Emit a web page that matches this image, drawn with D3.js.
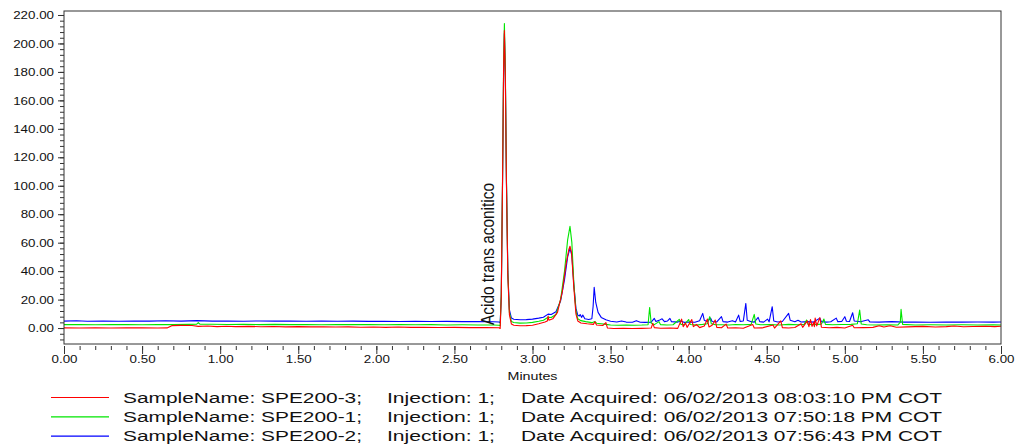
<!DOCTYPE html>
<html>
<head>
<meta charset="utf-8">
<script src="https://cdn.jsdelivr.net/npm/d3@7"></script>
<style>
  body { margin: 0; background: #fff; }
  svg { display: block; font-family: "Liberation Sans", Arial, sans-serif; }
</style>
</head>
<body>
<div id="chart"></div>
<script>
// time (min), response
const redData = [[0.00,0.1],[0.10,0.0],[0.20,0.2],[0.30,0.0],[0.40,0.1],[0.50,0.2],[0.60,0.0],[0.66,0.1],[0.69,1.7],[0.75,1.9],[0.82,1.8],[0.86,1.2],[0.92,1.4],[0.98,1.0],[1.04,1.3],[1.10,1.0],[1.18,1.2],[1.26,0.9],[1.34,1.1],[1.42,0.8],[1.50,1.0],[1.58,0.8],[1.66,0.9],[1.74,0.7],[1.82,0.8],[1.90,0.6],[1.98,0.7],[2.06,0.5],[2.14,0.7],[2.22,0.5],[2.30,0.6],[2.40,0.4],[2.50,0.5],[2.60,0.3],[2.70,0.4],[2.785,0.2],[2.793,-0.3],[2.800,22],[2.808,102],[2.815,183],[2.820,209],[2.826,178],[2.833,103],[2.842,37],[2.852,9.5],[2.865,2.8],[2.88,2.0],[2.92,1.6],[2.96,1.7],[3.00,2.0],[3.04,3.0],[3.08,4.2],[3.095,5],[3.10,8.4],[3.105,5.5],[3.13,6.5],[3.16,11],[3.19,25],[3.215,45],[3.232,55],[3.24,57.5],[3.25,53],[3.265,28],[3.278,10],[3.29,5.0],[3.31,3.6],[3.35,3.0],[3.39,2.6],[3.40,4.4],[3.41,2.2],[3.45,1.8],[3.47,3.8],[3.48,0.0],[3.52,-0.3],[3.58,-0.2],[3.64,-0.3],[3.70,-0.2],[3.76,0.0],[3.77,3.3],[3.78,0.3],[3.82,-0.1],[3.88,0.0],[3.93,-0.2],[3.955,6.3],[3.965,1.0],[3.98,3.5],[3.99,0.5],[4.02,6.0],[4.03,1.0],[4.05,2.5],[4.07,0.3],[4.10,1.5],[4.12,6.3],[4.13,0.8],[4.15,2.0],[4.17,5.6],[4.18,0.5],[4.21,0.2],[4.24,2.8],[4.25,0.0],[4.30,0.2],[4.35,-0.1],[4.41,2.5],[4.42,0.0],[4.47,0.1],[4.54,2.2],[4.55,0.0],[4.59,5.1],[4.60,0.3],[4.64,0.0],[4.68,0.4],[4.72,3.0],[4.73,0.5],[4.76,5.0],[4.77,1.0],[4.78,6.0],[4.79,1.2],[4.80,4.0],[4.805,1.0],[4.81,7.0],[4.82,1.5],[4.84,7.3],[4.85,0.6],[4.90,0.2],[4.95,0.5],[5.00,0.0],[5.05,2.0],[5.06,0.2],[5.12,0.3],[5.18,0.5],[5.22,1.6],[5.25,0.7],[5.29,1.6],[5.33,0.6],[5.40,0.8],[5.50,1.2],[5.58,0.7],[5.65,1.0],[5.70,1.5],[5.76,0.9],[5.82,1.1],[5.90,1.3],[5.96,1.0],[6.00,1.3]]

const greenData = [[0.00,2.4],[0.10,2.5],[0.20,2.3],[0.30,2.5],[0.40,2.4],[0.50,2.3],[0.60,2.5],[0.70,2.4],[0.80,2.6],[0.85,2.7],[0.86,3.8],[0.87,2.7],[0.95,2.7],[1.05,2.5],[1.15,2.6],[1.25,2.4],[1.35,2.6],[1.45,2.4],[1.55,2.5],[1.65,2.3],[1.75,2.5],[1.85,2.4],[1.95,2.5],[2.05,2.3],[2.15,2.4],[2.25,2.3],[2.35,2.4],[2.45,2.2],[2.55,2.3],[2.65,2.2],[2.75,2.1],[2.785,2.0],[2.793,1.6],[2.800,24],[2.808,104],[2.815,186],[2.820,214],[2.826,182],[2.833,106],[2.842,39],[2.852,11],[2.865,4.6],[2.88,3.9],[2.92,3.5],[2.96,3.6],[3.00,4.0],[3.04,4.8],[3.07,5.5],[3.10,7.6],[3.12,7.4],[3.15,9.5],[3.18,20],[3.205,40],[3.225,62],[3.24,71.5],[3.252,60],[3.265,31],[3.278,12],[3.29,6.5],[3.31,5.2],[3.34,4.5],[3.38,3.8],[3.40,4.6],[3.41,3.4],[3.44,3.0],[3.47,2.6],[3.50,2.2],[3.55,2.0],[3.60,2.2],[3.65,2.0],[3.70,2.1],[3.74,2.3],[3.75,14.5],[3.76,3.5],[3.78,2.4],[3.81,4.5],[3.82,2.4],[3.86,2.2],[3.90,2.3],[3.94,6.1],[3.95,2.6],[3.97,2.3],[4.00,6.0],[4.01,2.5],[4.05,2.2],[4.09,2.6],[4.12,3.0],[4.135,8.0],[4.145,3.0],[4.17,2.4],[4.21,2.3],[4.26,2.2],[4.30,2.5],[4.35,2.3],[4.40,2.6],[4.42,9.6],[4.43,2.8],[4.46,2.3],[4.52,2.4],[4.58,2.2],[4.64,2.6],[4.70,2.3],[4.74,2.6],[4.755,5.6],[4.765,2.5],[4.80,2.4],[4.85,2.8],[4.866,6.3],[4.876,2.6],[4.92,2.3],[4.98,2.5],[5.04,2.6],[5.08,3.0],[5.095,12.6],[5.105,2.8],[5.14,2.3],[5.20,2.2],[5.27,2.3],[5.34,2.2],[5.355,4.0],[5.36,13.1],[5.37,2.6],[5.45,2.2],[5.55,2.3],[5.65,2.2],[5.75,2.3],[5.85,2.2],[5.95,2.3],[6.00,2.2]]

const blueData = [[0.00,4.9],[0.08,5.1],[0.15,4.8],[0.25,5.0],[0.35,4.8],[0.45,5.0],[0.55,4.9],[0.65,5.1],[0.75,4.9],[0.85,5.2],[0.95,4.9],[1.05,5.0],[1.15,4.8],[1.25,5.0],[1.35,4.9],[1.45,5.0],[1.55,4.8],[1.65,4.9],[1.75,4.8],[1.85,4.9],[1.95,4.7],[2.05,4.8],[2.15,4.6],[2.25,4.8],[2.35,4.6],[2.45,4.7],[2.55,4.5],[2.65,4.6],[2.75,4.4],[2.785,4.3],[2.793,3.8],[2.800,22],[2.808,100],[2.815,180],[2.820,207],[2.826,178],[2.833,104],[2.842,40],[2.852,13],[2.865,7],[2.88,6.2],[2.92,5.8],[2.96,5.9],[3.00,6.3],[3.04,7.0],[3.07,7.6],[3.10,9.8],[3.12,9.5],[3.15,11.5],[3.18,19],[3.205,34],[3.225,50],[3.24,56],[3.252,51],[3.265,30],[3.278,14],[3.29,9],[3.30,8.5],[3.305,9.5],[3.315,7.5],[3.322,9.2],[3.335,6.5],[3.36,6.0],[3.38,6.5],[3.388,15],[3.395,28.6],[3.405,18],[3.42,11],[3.44,7.5],[3.47,5.8],[3.50,4.8],[3.54,4.3],[3.57,5.0],[3.60,4.2],[3.64,4.1],[3.665,5.2],[3.69,4.1],[3.72,4.0],[3.76,4.2],[3.78,6.8],[3.79,4.6],[3.81,5.4],[3.83,6.5],[3.845,4.5],[3.865,5.0],[3.88,6.8],[3.89,4.5],[3.93,4.2],[3.95,5.0],[3.97,4.0],[4.01,4.3],[4.04,4.1],[4.07,5.2],[4.09,10.3],[4.10,5.5],[4.12,4.5],[4.14,7.0],[4.15,4.6],[4.18,4.3],[4.21,8.0],[4.22,4.5],[4.25,4.2],[4.28,5.2],[4.30,4.3],[4.32,9.1],[4.33,4.6],[4.35,5.0],[4.366,17.3],[4.375,5.5],[4.40,4.5],[4.42,4.2],[4.445,7.5],[4.455,4.5],[4.48,4.2],[4.505,6.3],[4.515,4.4],[4.535,15.0],[4.545,5.0],[4.57,4.3],[4.60,4.6],[4.64,10.3],[4.65,5.5],[4.68,4.4],[4.70,5.5],[4.72,4.3],[4.76,4.5],[4.80,4.2],[4.84,7.0],[4.85,4.5],[4.88,4.2],[4.91,4.4],[4.945,7.0],[4.955,4.5],[4.98,4.6],[5.00,8.0],[5.01,4.8],[5.03,4.6],[5.05,10.8],[5.06,5.0],[5.10,4.4],[5.15,5.8],[5.16,4.3],[5.22,4.2],[5.30,4.5],[5.38,4.2],[5.45,4.3],[5.55,4.1],[5.65,4.3],[5.75,4.2],[5.85,4.3],[5.95,4.2],[6.00,4.3]]

const xMajor = [0, 0.5, 1, 1.5, 2, 2.5, 3, 3.5, 4, 4.5, 5, 5.5, 6]
const yMajor = [0, 20, 40, 60, 80, 100, 120, 140, 160, 180, 200, 220]
const xMinor = d3.range(0, 61).map(d => d / 10)
const yMinor = d3.range(-8, 221, 4)

const legendRows = [
    {color: '#ff0000', name: 'SampleName: SPE200-3;', inj: 'Injection: 1;', date: 'Date Acquired: 06/02/2013 08:03:10 PM COT'},
    {color: '#00e600', name: 'SampleName: SPE200-1;', inj: 'Injection: 1;', date: 'Date Acquired: 06/02/2013 07:50:18 PM COT'},
    {color: '#0000ff', name: 'SampleName: SPE200-2;', inj: 'Injection: 1;', date: 'Date Acquired: 06/02/2013 07:56:43 PM COT'}
]
const peakLabel = 'Acido trans aconitico'

const width = 1016, height = 444
const plot = {left: 64, right: 1001, top: 11, bottom: 344}

let svg = d3.select('#chart').append('svg')
    .attr('width', width)
    .attr('height', height)

let x = d3.scaleLinear().domain([0, 6]).range([plot.left, plot.right])
let y = d3.scaleLinear().domain([-11.2, 222.8]).range([plot.bottom, plot.top])

// stretch text horizontally like the original export, placed by hand
// align: 'end' puts right edge at x=endX, 'middle' centres on 0
function stretch(sel, k, align, endX) {
    sel.each(function() {
        let t = d3.select(this)
        t.attr('text-anchor', 'start')
        let w = this.getComputedTextLength() * k
        t.attr('textLength', w).attr('lengthAdjust', 'spacingAndGlyphs')
        if (align == 'end') t.attr('x', endX - w)
        else t.attr('x', -w / 2)
    })
}

function styleTicks(g) {
    g.select('.domain').remove()
    g.selectAll('.tick line').attr('stroke', '#333')
    g.selectAll('.tick text')
        .attr('fill', '#111')
        .style('font-size', '11.5px')
        .style('font-family', '"Liberation Sans", Arial, sans-serif')
}

// y axis
svg.append('g').attr('transform', `translate(${plot.left},0)`)
    .call(d3.axisLeft(y).tickValues(yMinor).tickSize(4).tickFormat(''))
    .call(styleTicks)
svg.append('g').attr('transform', `translate(${plot.left},0)`)
    .call(d3.axisLeft(y).tickValues(yMajor).tickSize(6).tickPadding(4).tickFormat(d3.format('.2f')))
    .call(styleTicks)
    .selectAll('.tick text').call(stretch, 1.16, 'end', -10)

// x axis
svg.append('g').attr('transform', `translate(0,${plot.bottom + 2})`)
    .call(d3.axisBottom(x).tickValues(xMinor).tickSize(4).tickFormat(''))
    .call(styleTicks)
svg.append('g').attr('transform', `translate(0,${plot.bottom + 2})`)
    .call(d3.axisBottom(x).tickValues(xMajor).tickSize(8).tickPadding(1).tickFormat(d3.format('.2f')))
    .call(styleTicks)
    .selectAll('.tick text').call(stretch, 1.16, 'middle')

svg.append('text')
    .attr('x', (plot.left + plot.right) / 2 - 25)
    .attr('y', 380)
    .style('font-size', '11.5px')
    .attr('fill', '#111')
    .text('Minutes')
    .attr('textLength', 50)
    .attr('lengthAdjust', 'spacingAndGlyphs')

// traces, red drawn last
let line = d3.line().x(d => x(d[0])).y(d => y(d[1]))
let traces = [[blueData, '#0000ff'], [greenData, '#00e600'], [redData, '#ff0000']]
svg.selectAll('path.trace')
    .data(traces)
    .enter().append('path')
    .attr('class', 'trace')
    .attr('d', d => line(d[0]))
    .attr('fill', 'none')
    .attr('stroke', d => d[1])
    .attr('stroke-width', 1.1)
    .attr('stroke-linejoin', 'round')

// frame
svg.append('rect')
    .attr('x', plot.left).attr('y', plot.top)
    .attr('width', plot.right - plot.left).attr('height', plot.bottom - plot.top)
    .attr('fill', 'none').attr('stroke', '#333').attr('stroke-width', 1)

// peak annotation
svg.append('text')
    .attr('transform', `translate(${x(2.755)},325) scale(1.2,1) rotate(-90)`)
    .style('font-size', '15.4px')
    .attr('fill', '#111')
    .text(peakLabel)
    .attr('textLength', 142)
    .attr('lengthAdjust', 'spacingAndGlyphs')

// legend
let leg = svg.selectAll('g.leg')
    .data(legendRows)
    .enter().append('g')
    .attr('class', 'leg')
    .attr('transform', (d, i) => `translate(0,${397.5 + i * 19.3})`)

leg.append('line')
    .attr('x1', 51).attr('x2', 109)
    .attr('stroke', d => d.color).attr('stroke-width', 1.2)

let cols = [['name', 123, 239], ['inj', 387, 108], ['date', 521, 421]]
cols.forEach(function(c) {
    leg.append('text')
        .attr('x', c[1]).attr('y', 5)
        .style('font-size', '15.5px')
        .attr('fill', '#111')
        .text(d => d[c[0]])
        .attr('textLength', c[2])
        .attr('lengthAdjust', 'spacingAndGlyphs')
})
</script>
</body>
</html>
